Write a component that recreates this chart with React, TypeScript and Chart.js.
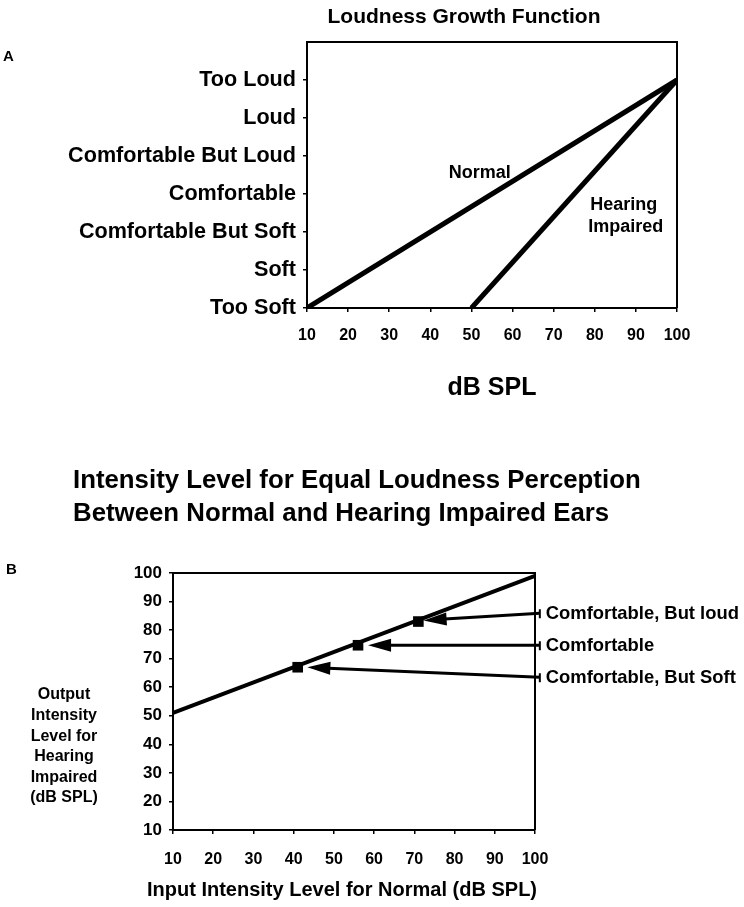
import React, { useEffect, useRef } from 'react';
import { Chart, registerables } from 'chart.js';
Chart.register(...registerables);

const FONT = '"Liberation Sans", Arial, Helvetica, sans-serif';
const INK = '#000';

// ---------- Chart A: Loudness Growth Function ----------
const loudnessCategories = [
  'Too Soft',
  'Soft',
  'Comfortable But Soft',
  'Comfortable',
  'Comfortable But Loud',
  'Loud',
  'Too Loud',
];
const dbSplTicks = [10, 20, 30, 40, 50, 60, 70, 80, 90, 100];
const normalX = [10, 100];
const normalY = [0, 6];
const impairedX = [50, 100];
const impairedY = [0, 6];
const normalLabelAt = [52, 3.55];
const impairedLabelAt = [78.4, 2.71, 2.13];

// ---------- Chart B: Equal loudness ----------
const inputLevels = [10, 100];
const outputLevels = [51, 99];
const markerInput = [41, 56, 71];
const markerOutput = [67, 74.7, 83];
const calloutLabels = ['Comfortable, But loud', 'Comfortable', 'Comfortable, But Soft'];
const calloutFromX = [101.2, 101.2, 101.2];
const calloutFromY = [85.9, 74.7, 63.5];
const calloutToX = [72.3, 58.5, 43.4];
const calloutToY = [83.4, 74.7, 67];
const outputAxisTitle = ['Output', 'Intensity', 'Level for', 'Hearing', 'Impaired', '(dB SPL)'];

const axisGrid = {
  display: true,
  drawOnChartArea: false,
  drawTicks: true,
  tickLength: 4,
  color: INK,
  lineWidth: 1.5,
};
const axisBorder = { display: true, color: INK, width: 2 };

const pairs = (xs: number[], ys: number[]) => xs.map((v, i) => ({ x: v, y: ys[i] }));

const annotA = {
  id: 'annotA',
  afterDraw(chart: any) {
    const { ctx, chartArea: ca, scales } = chart;
    const x = scales.x;
    const y = scales.y;
    ctx.save();
    ctx.strokeStyle = INK;
    ctx.lineWidth = 2;
    ctx.beginPath();
    ctx.moveTo(ca.left, ca.top);
    ctx.lineTo(ca.right, ca.top);
    ctx.lineTo(ca.right, ca.bottom);
    ctx.stroke();

    ctx.fillStyle = INK;
    ctx.textBaseline = 'middle';
    ctx.textAlign = 'center';
    ctx.font = `bold 21px ${FONT}`;
    ctx.fillText('Loudness Growth Function', 464, 17);

    ctx.textAlign = 'left';
    ctx.font = `bold 15px ${FONT}`;
    ctx.fillText('A', 3, 57);

    ctx.font = `bold 18px ${FONT}`;
    ctx.textAlign = 'center';
    ctx.fillText('Normal', x.getPixelForValue(normalLabelAt[0]), y.getPixelForValue(normalLabelAt[1]));
    ctx.textAlign = 'left';
    ctx.fillText('Hearing', x.getPixelForValue(impairedLabelAt[0]) + 2, y.getPixelForValue(impairedLabelAt[1]));
    ctx.fillText('Impaired', x.getPixelForValue(impairedLabelAt[0]), y.getPixelForValue(impairedLabelAt[2]));
    ctx.restore();
  },
};

const annotB = {
  id: 'annotB',
  afterDraw(chart: any) {
    const { ctx, chartArea: ca, scales } = chart;
    const x = scales.x;
    const y = scales.y;
    ctx.save();
    ctx.strokeStyle = INK;
    ctx.fillStyle = INK;
    ctx.lineWidth = 2;
    ctx.beginPath();
    ctx.moveTo(ca.left, ca.top);
    ctx.lineTo(ca.right, ca.top);
    ctx.lineTo(ca.right, ca.bottom);
    ctx.stroke();

    // titles
    ctx.textBaseline = 'middle';
    ctx.textAlign = 'left';
    ctx.font = `bold 25.8px ${FONT}`;
    ctx.fillText('Intensity Level for Equal Loudness Perception', 73, 41);
    ctx.fillText('Between Normal and Hearing Impaired Ears', 73, 74);

    ctx.font = `bold 15px ${FONT}`;
    ctx.fillText('B', 6, 130);

    // y axis title (stacked)
    ctx.textAlign = 'center';
    ctx.font = `bold 16px ${FONT}`;
    outputAxisTitle.forEach((t, i) => ctx.fillText(t, 64, 255 + i * 20.6));

    // x axis title
    ctx.font = `bold 20px ${FONT}`;
    ctx.fillText('Input Intensity Level for Normal (dB SPL)', 342, 450);

    // callout arrows
    for (let i = 0; i < calloutLabels.length; i++) {
      const sx = x.getPixelForValue(calloutFromX[i]);
      const sy = y.getPixelForValue(calloutFromY[i]);
      const tx = x.getPixelForValue(calloutToX[i]);
      const ty = y.getPixelForValue(calloutToY[i]);
      const dx = tx - sx;
      const dy = ty - sy;
      const len = Math.hypot(dx, dy);
      const ux = dx / len;
      const uy = dy / len;
      const headL = 23;
      const headW = 6.5;
      const bx = tx - ux * headL;
      const by = ty - uy * headL;
      ctx.lineWidth = 3;
      ctx.beginPath();
      ctx.moveTo(sx, sy);
      ctx.lineTo(bx + ux * 2, by + uy * 2);
      ctx.stroke();
      ctx.beginPath();
      ctx.moveTo(tx, ty);
      ctx.lineTo(bx - uy * headW, by + ux * headW);
      ctx.lineTo(bx + uy * headW, by - ux * headW);
      ctx.closePath();
      ctx.fill();
      // little tick at the start
      ctx.lineWidth = 2;
      ctx.beginPath();
      ctx.moveTo(sx, sy - 4);
      ctx.lineTo(sx, sy + 5);
      ctx.stroke();

      ctx.textAlign = 'left';
      ctx.font = `bold 18.4px ${FONT}`;
      ctx.fillText(calloutLabels[i], sx + 6, sy + 1);
    }
    ctx.restore();
  },
};

export default function App() {
  const refA = useRef<HTMLCanvasElement>(null);
  const refB = useRef<HTMLCanvasElement>(null);

  useEffect(() => {
    const chartA = new Chart(refA.current as HTMLCanvasElement, {
      type: 'scatter',
      data: {
        datasets: [
          {
            label: 'Normal',
            data: pairs(normalX, normalY),
            showLine: true,
            borderColor: INK,
            borderWidth: 5,
            pointRadius: 0,
            fill: false,
          },
          {
            label: 'Hearing Impaired',
            data: pairs(impairedX, impairedY),
            showLine: true,
            borderColor: INK,
            borderWidth: 5,
            pointRadius: 0,
            fill: false,
          },
        ],
      },
      options: {
        responsive: false,
        animation: false,
        layout: { padding: { top: 42, right: 67, left: 0, bottom: 0 } },
        plugins: { legend: { display: false }, tooltip: { enabled: false }, title: { display: false } },
        scales: {
          x: {
            type: 'linear',
            min: dbSplTicks[0],
            max: dbSplTicks[dbSplTicks.length - 1],
            afterFit: (s: any) => { s.height = 112; },
            afterBuildTicks: (s: any) => { s.ticks = dbSplTicks.map((v) => ({ value: v })); },
            ticks: {
              color: INK,
              padding: 14,
              maxRotation: 0,
              font: { family: FONT, size: 16, weight: 'bold' },
            },
            grid: axisGrid,
            border: axisBorder,
            title: {
              display: true,
              text: 'dB SPL',
              color: INK,
              font: { family: FONT, size: 25, weight: 'bold' },
              padding: { top: 0, bottom: 17 },
            },
          },
          y: {
            type: 'linear',
            min: 0,
            max: 7,
            afterFit: (s: any) => { s.width = 307; },
            afterBuildTicks: (s: any) => { s.ticks = loudnessCategories.map((_, i) => ({ value: i })); },
            ticks: {
              color: INK,
              padding: 7,
              font: { family: FONT, size: 21.6, weight: 'bold' },
              callback: (v: any) => loudnessCategories[v] ?? '',
            },
            grid: axisGrid,
            border: axisBorder,
          },
        },
      } as any,
      plugins: [annotA],
    });

    const chartB = new Chart(refB.current as HTMLCanvasElement, {
      type: 'scatter',
      data: {
        datasets: [
          {
            label: 'Equal loudness',
            data: pairs(inputLevels, outputLevels),
            showLine: true,
            borderColor: INK,
            borderWidth: 4,
            pointRadius: 0,
            fill: false,
          },
          {
            label: 'Markers',
            data: pairs(markerInput, markerOutput),
            showLine: false,
            pointStyle: 'rect',
            pointRadius: 7.5,
            backgroundColor: INK,
            borderColor: INK,
            borderWidth: 0,
          },
        ],
      },
      options: {
        responsive: false,
        animation: false,
        layout: { padding: { top: 133, right: 209, left: 0, bottom: 0 } },
        plugins: { legend: { display: false }, tooltip: { enabled: false }, title: { display: false } },
        scales: {
          x: {
            type: 'linear',
            min: dbSplTicks[0],
            max: dbSplTicks[dbSplTicks.length - 1],
            afterFit: (s: any) => { s.height = 77; },
            afterBuildTicks: (s: any) => { s.ticks = dbSplTicks.map((v) => ({ value: v })); },
            ticks: {
              color: INK,
              padding: 16,
              maxRotation: 0,
              font: { family: FONT, size: 16, weight: 'bold' },
            },
            grid: axisGrid,
            border: axisBorder,
          },
          y: {
            type: 'linear',
            min: dbSplTicks[0],
            max: dbSplTicks[dbSplTicks.length - 1],
            afterFit: (s: any) => { s.width = 173; },
            afterBuildTicks: (s: any) => { s.ticks = dbSplTicks.map((v) => ({ value: v })); },
            ticks: {
              color: INK,
              padding: 7,
              font: { family: FONT, size: 17, weight: 'bold' },
            },
            grid: axisGrid,
            border: axisBorder,
          },
        },
      } as any,
      plugins: [annotB],
    });

    return () => {
      chartA.destroy();
      chartB.destroy();
    };
  }, []);

  return (
    <div style={{ position: 'absolute', left: 0, top: 0, width: 744, height: 907, background: '#fff' }}>
      <canvas ref={refA} width={744} height={420} style={{ position: 'absolute', left: 0, top: 0, display: 'block' }} />
      <canvas ref={refB} width={744} height={467} style={{ position: 'absolute', left: 0, top: 440, display: 'block' }} />
    </div>
  );
}
